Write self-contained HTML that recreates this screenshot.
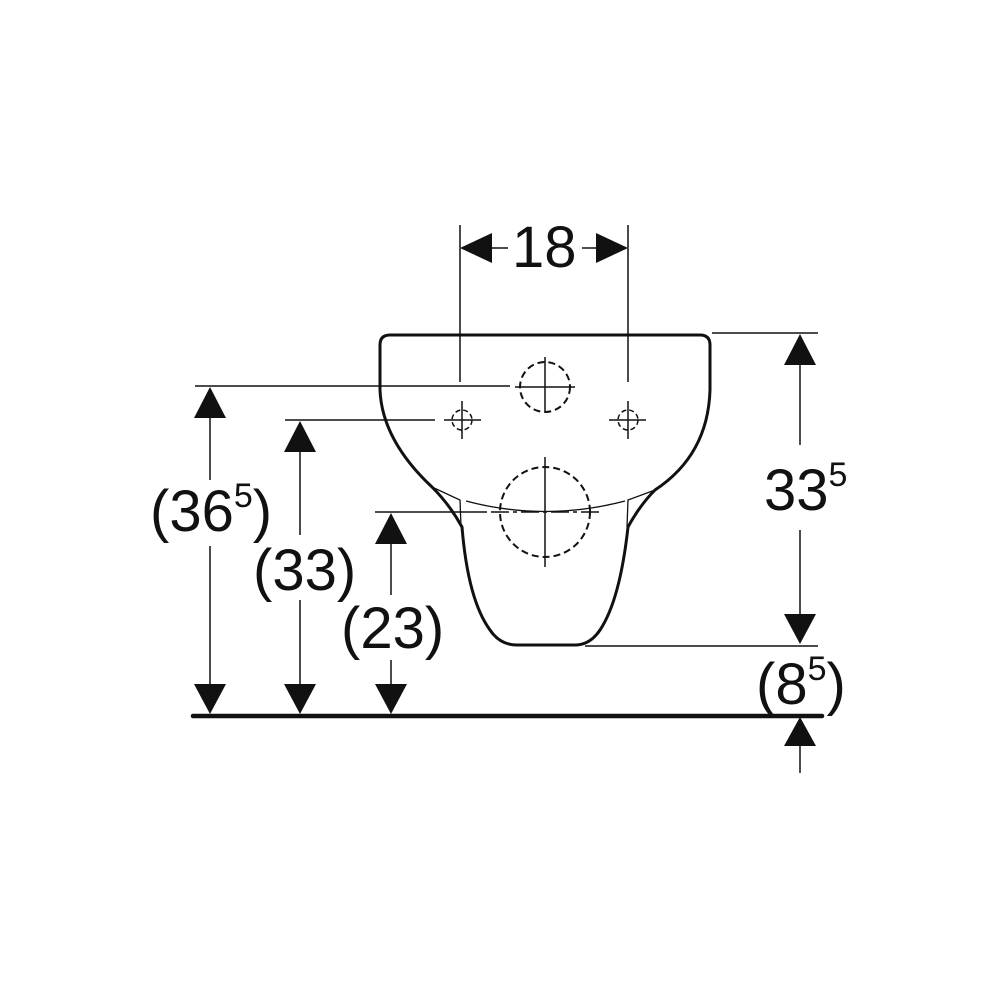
<!DOCTYPE html>
<html><head><style>body{margin:0;background:#fff}svg{display:block}text{font-family:"Liberation Sans",Arial,sans-serif;fill:#111}</style></head>
<body>
<svg width="1000" height="1000" viewBox="0 0 1000 1000" xmlns="http://www.w3.org/2000/svg">
<g stroke="#111" fill="none">
<!-- bowl -->
<path d="M380 345 Q380 335 390 335 L700 335 Q710 335 710 345 L710 390 Q708 455 655 490 Q640 505 628 527 Q620 600 600 630 Q590 645 575 645 L517 645 Q500 645 490 630 Q468 600 462 527 Q450 505 432 487 Q382 440 380 390 Z" stroke-width="3"/>
<path d="M432 487 L460 500 L461 527" stroke-width="1.3"/>
<path d="M655 490 L628 500 L627 527" stroke-width="1.3"/>
<path d="M466 501 Q545 522 625 501" stroke-width="1.3"/>
<!-- circles -->
<circle cx="545" cy="387" r="25" stroke-width="2" stroke-dasharray="7 4"/>
<circle cx="545" cy="512" r="45" stroke-width="2" stroke-dasharray="7 4"/>
<circle cx="462" cy="420" r="10" stroke-width="1.5" stroke-dasharray="5 3"/>
<circle cx="628" cy="420" r="10" stroke-width="1.5" stroke-dasharray="5 3"/>
<g stroke-width="1.5">
<path d="M545 357 V412 M515 387 H575"/>
<path d="M545 457 V567"/>
<path d="M444 420 H481 M462 401 V439 M609 420 H646 M628 401 V439"/>
<!-- extension lines -->
<path d="M460 225 V382 M628 225 V382"/>
<path d="M195 386 H510 M285 420 H435 M375 512 H487 M712 333 H818 M585 646 H818"/>
<path d="M491 512 H600" stroke-dasharray="18 4 4 4"/>
<!-- dim lines -->
<path d="M470 248 H508 M582 248 H618"/>
<path d="M210 410 V480 M210 546 V690"/>
<path d="M300 445 V535 M300 600 V690"/>
<path d="M391 538 V595 M391 660 V690"/>
<path d="M800 360 V445 M800 530 V620"/>
<path d="M800 742 V773"/>
</g>
<path d="M193 716 H822" stroke-width="4.5" stroke-linecap="round"/>
</g>
<g fill="#111">
<polygon points="460,248 492,233 492,263"/>
<polygon points="628,248 596,233 596,263"/>
<polygon points="210,387 194,418 226,418"/><polygon points="210,714 194,684 226,684"/>
<polygon points="300,421 284,452 316,452"/><polygon points="300,714 284,684 316,684"/>
<polygon points="391,513 375,544 407,544"/><polygon points="391,714 375,684 407,684"/>
<polygon points="800,334 784,365 816,365"/><polygon points="800,644 784,614 816,614"/>
<polygon points="800,717 784,746 816,746"/>
</g>
<text x="512" y="267" font-size="58">18</text>
<text x="150" y="531" font-size="58">(36<tspan font-size="34" dy="-24">5</tspan><tspan dy="24">)</tspan></text>
<text x="253" y="590" font-size="58">(33)</text>
<text x="341" y="648" font-size="58">(23)</text>
<text x="764" y="510" font-size="58">33<tspan font-size="34" dy="-24">5</tspan></text>
<text x="756" y="704" font-size="58">(8<tspan font-size="34" dy="-24">5</tspan><tspan dy="24">)</tspan></text>
</svg>
</body></html>
